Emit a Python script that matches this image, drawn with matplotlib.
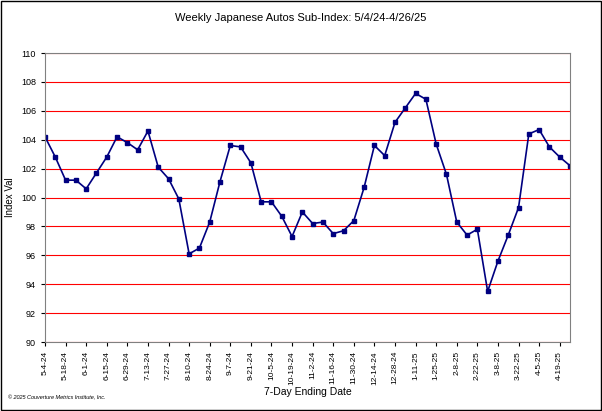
import matplotlib
matplotlib.use("Agg")
import matplotlib.pyplot as plt
from matplotlib.patches import Rectangle

values = [104.2,102.8,101.2,101.2,100.6,101.7,102.8,104.2,103.8,103.3,104.6,102.1,101.3,99.9,
          96.1,96.5,98.3,101.1,103.6,103.5,102.4,99.7,99.7,98.7,97.3,99.0,98.2,98.3,97.5,97.7,
          98.4,100.7,103.6,102.9,105.2,106.2,107.2,106.8,103.7,101.6,98.3,97.4,97.8,93.5,95.6,
          97.4,99.3,104.4,104.7,103.5,102.8,102.2]
tick_labels = ["5-4-24","5-18-24","6-1-24","6-15-24","6-29-24","7-13-24","7-27-24","8-10-24",
               "8-24-24","9-7-24","9-21-24","10-5-24","10-19-24","11-2-24","11-16-24","11-30-24",
               "12-14-24","12-28-24","1-11-25","1-25-25","2-8-25","2-22-25","3-8-25","3-22-25",
               "4-5-25","4-19-25"]

fig = plt.figure(figsize=(6.02, 4.11), dpi=100)
fig.patches.append(Rectangle((0.002, 0.002), 0.996, 0.996, transform=fig.transFigure,
                             fill=False, edgecolor="black", lw=1))
ax = fig.add_axes([45/602, 1-342/411, 525/602, 289/411])
x = list(range(len(values)))
ax.plot(x, values, color="#000080", lw=1.2, marker="s", ms=3, mfc="#000080", mec="#000080")
ax.set_xlim(0, len(values)-1)
ax.set_ylim(90, 110)
ax.set_yticks(range(90, 111, 2))
ax.set_xticks(x[::2])
ax.set_xticklabels(tick_labels, rotation=90, fontsize=6, fontfamily="Liberation Sans")
ax.tick_params(axis="y", labelsize=6.5, length=3)
ax.tick_params(axis="x", length=3)
for l in ax.get_yticklabels():
    l.set_fontfamily("Liberation Sans")
ax.grid(axis="y", color="#ff0000", lw=0.8)
ax.set_axisbelow(True)
for s in ax.spines.values():
    s.set_color("#808080")
ax.set_ylabel("Index Val", fontsize=7, fontfamily="Liberation Sans")
ax.set_xlabel("7-Day Ending Date", fontsize=7.5, fontfamily="Liberation Sans", labelpad=2)
fig.text(0.5, 1-18/411, "Weekly Japanese Autos Sub-Index: 5/4/24-4/26/25", ha="center",
         va="center", fontsize=8, fontfamily="Liberation Sans")
fig.text(8/602, 1-398/411, "© 2025 Couverture Metrics Institute, Inc.", fontsize=4,
         style="italic", fontfamily="Liberation Sans", va="center")
fig.savefig("out.png", dpi=100)
